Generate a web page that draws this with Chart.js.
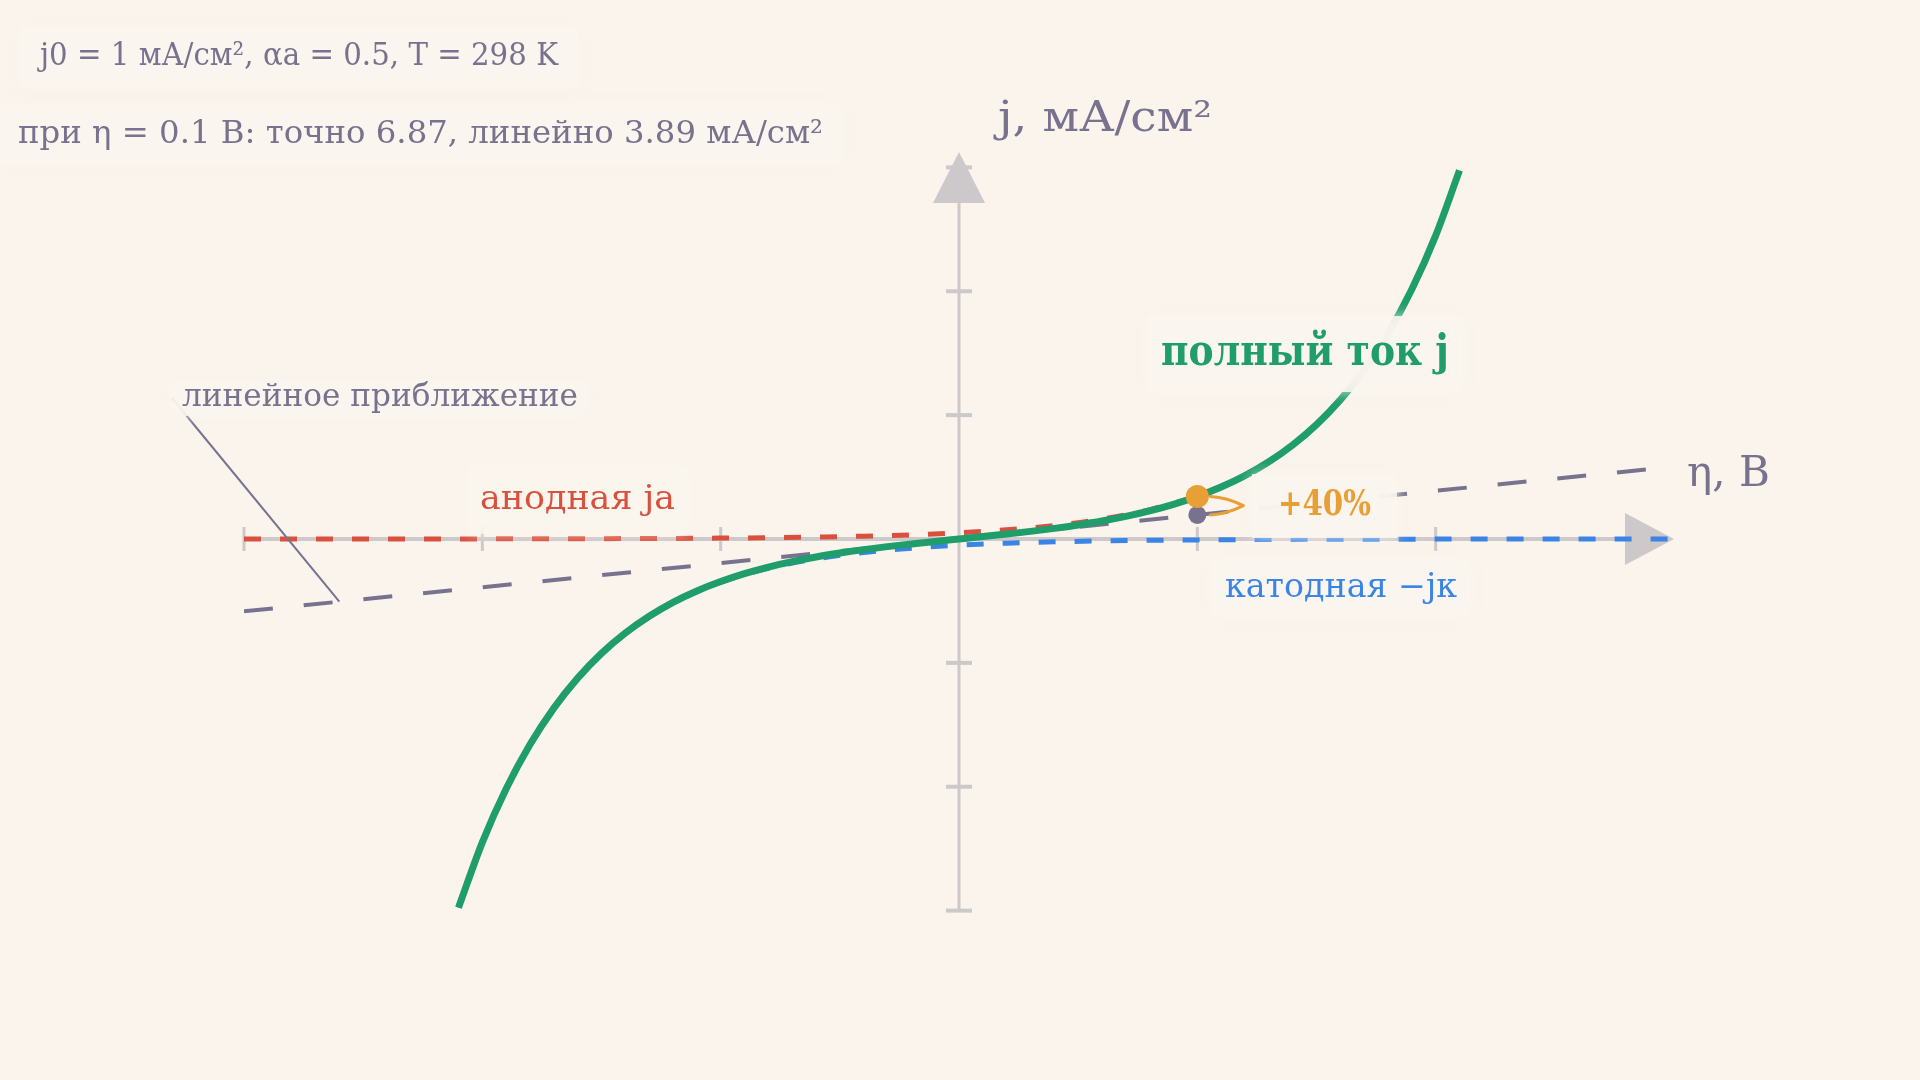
<!DOCTYPE html>
<html>
<head>
<meta charset="utf-8">
<script src="https://cdn.jsdelivr.net/npm/chart.js@4.4.1/dist/chart.umd.min.js"></script>
<style>
  html, body { margin: 0; padding: 0; background: #faf4ec; }
  #wrap { width: 1920px; height: 1080px; }
</style>
</head>
<body>
<div id="wrap"><canvas id="bv" width="1920" height="1080"></canvas></div>
<script>
// overpotential eta, V  /  current density j, mA/cm2
const etaTotal = [-0.21,-0.20,-0.19,-0.18,-0.17,-0.16,-0.15,-0.14,-0.13,-0.12,-0.11,-0.10,-0.09,-0.08,-0.07,-0.06,-0.05,-0.04,-0.03,-0.02,-0.01,
                  0,0.01,0.02,0.03,0.04,0.05,0.06,0.07,0.08,0.09,0.10,0.11,0.12,0.13,0.14,0.15,0.16,0.17,0.18,0.19,0.20,0.21];
const jTotal = [-59.51,-48.99,-40.32,-33.18,-27.30,-22.46,-18.47,-15.18,-12.47,-10.23,-8.39,-6.87,-5.59,-4.53,-3.65,-2.90,-2.27,-1.72,-1.23,-0.80,-0.39,
                0,0.39,0.80,1.23,1.72,2.27,2.90,3.65,4.53,5.59,6.87,8.39,10.23,12.47,15.18,18.47,22.46,27.30,33.18,40.32,48.99,59.51];

const etaAnodic = [-0.30,-0.25,-0.20,-0.15,-0.12,-0.10,-0.08,-0.06,-0.04,-0.02,0,0.02,0.04,0.06,0.08,0.10,0.12,0.14,0.16,0.18,0.20,0.21];
const jAnodic = [0.003,0.008,0.020,0.054,0.097,0.143,0.211,0.311,0.459,0.678,1,1.476,2.178,3.214,4.744,7.001,10.33,15.25,22.50,33.21,49.01,59.53];

const etaCathodic = [-0.21,-0.20,-0.18,-0.16,-0.14,-0.12,-0.10,-0.08,-0.06,-0.04,-0.02,0,0.02,0.04,0.06,0.08,0.10,0.12,0.15,0.20,0.25,0.30];
const jCathodic = [-59.53,-49.01,-33.21,-22.50,-15.25,-10.33,-7.001,-4.744,-3.214,-2.178,-1.476,-1,-0.678,-0.459,-0.311,-0.211,-0.143,-0.097,-0.054,-0.020,-0.008,-0.003];

const etaLinear = [-0.30, 0, 0.30];
const jLinear = [-11.68, 0, 11.68];

const markerEta = [0.1];
const markerExact = [6.87];
const markerLinear = [3.89];

const xTicks = [-0.3, -0.2, -0.1, 0.1, 0.2];
const yTicks = [-60, -40, -20, 20, 40, 60];

const BG = "#faf4ec";
const INK = "#78728f";
const AXIS = "#cdc8c9";
const GREEN = "#1f9d6b";
const RED = "#d9503f";
const BLUE = "#3a84e6";
const ORANGE = "#e89f36";
const SERIF = "'DejaVu Serif', 'Liberation Serif', serif";

function pts(xs, ys) {
  return xs.map((x, i) => ({x: x, y: ys[i]}));
}

// hand-drawn math axes through the origin, with arrows
const axesPlugin = {
  id: "axes",
  beforeDatasetsDraw(chart) {
    const ctx = chart.ctx;
    const xs = chart.scales.x, ys = chart.scales.y;
    const x0 = xs.getPixelForValue(0), y0 = ys.getPixelForValue(0);
    const xEnd = xs.getPixelForValue(0.3);
    const yTop = ys.getPixelForValue(62.5);
    ctx.save();
    ctx.strokeStyle = AXIS;
    ctx.fillStyle = AXIS;
    // x axis
    ctx.lineWidth = 4;
    ctx.beginPath();
    ctx.moveTo(xs.getPixelForValue(-0.3), y0);
    ctx.lineTo(xEnd - 40, y0);
    ctx.stroke();
    ctx.beginPath();
    ctx.moveTo(xEnd, y0);
    ctx.lineTo(xEnd - 49, y0 - 26);
    ctx.lineTo(xEnd - 49, y0 + 26);
    ctx.closePath();
    ctx.fill();
    ctx.lineWidth = 3;
    xTicks.forEach(v => {
      const px = xs.getPixelForValue(v);
      ctx.beginPath();
      ctx.moveTo(px, y0 - 12);
      ctx.lineTo(px, y0 + 12);
      ctx.stroke();
    });
    // y axis
    ctx.lineWidth = 3;
    ctx.beginPath();
    ctx.moveTo(x0, ys.getPixelForValue(-60));
    ctx.lineTo(x0, yTop + 45);
    ctx.stroke();
    ctx.lineWidth = 4;
    yTicks.forEach(v => {
      const py = ys.getPixelForValue(v);
      ctx.beginPath();
      ctx.moveTo(x0 - 13, py);
      ctx.lineTo(x0 + 13, py);
      ctx.stroke();
    });
    ctx.beginPath();
    ctx.moveTo(x0, yTop);
    ctx.lineTo(x0 - 26, yTop + 51);
    ctx.lineTo(x0 + 26, yTop + 51);
    ctx.closePath();
    ctx.fill();
    ctx.restore();
  }
};

// text squeezed/stretched to a given width
function fitText(ctx, text, x, y, font, color, width) {
  ctx.font = font;
  const w = ctx.measureText(text).width;
  ctx.save();
  ctx.fillStyle = color;
  ctx.textBaseline = "middle";
  ctx.textAlign = "left";
  ctx.translate(x, y);
  ctx.scale(width / w, 1);
  ctx.fillText(text, 0, 0);
  ctx.restore();
}

function label(ctx, text, x, y, font, color, width, pad, alpha) {
  ctx.save();
  ctx.shadowColor = "rgba(250,245,238," + alpha + ")";
  ctx.shadowBlur = 12;
  ctx.fillStyle = "rgba(250,245,238," + alpha + ")";
  ctx.fillRect(x - pad[0], y - pad[1], width + 2 * pad[0], 2 * pad[1]);
  ctx.restore();
  fitText(ctx, text, x, y, font, color, width);
}

const notesPlugin = {
  id: "notes",
  afterDatasetsDraw(chart) {
    const ctx = chart.ctx;
    const xs = chart.scales.x, ys = chart.scales.y;
    ctx.save();
    // leader line for linear approximation
    ctx.strokeStyle = INK;
    ctx.lineWidth = 2;
    ctx.beginPath();
    ctx.moveTo(172, 398);
    ctx.lineTo(xs.getPixelForValue(-0.26), ys.getPixelForValue(-10.12));
    ctx.stroke();

    label(ctx, "j0 = 1 мА/см², αa = 0.5, T = 298 K", 40, 57, "32px " + SERIF, INK, 518, [20, 30], 0.88);
    label(ctx, "при η = 0.1 В: точно 6.87, линейно 3.89 мА/см²", 18, 135, "31px " + SERIF, INK, 805, [18, 30], 0.88);
    label(ctx, "линейное приближение", 182, 398, "31px " + SERIF, INK, 396, [12, 18], 0.85);
    label(ctx, "анодная ja", 480, 500, "34px " + SERIF, RED, 195, [12, 34], 0.8);
    label(ctx, "полный ток j", 1161, 354, "bold 42px " + SERIF, GREEN, 288, [14, 38], 0.88);
    label(ctx, "+40%", 1278, 506, "bold 35px " + SERIF, ORANGE, 93, [26, 32], 0.88);
    label(ctx, "катодная −jк", 1225, 588, "33px " + SERIF, BLUE, 232, [14, 28], 0.88);

    fitText(ctx, "j, мА/см²", 998, 120, "42px " + SERIF, INK, 214);
    fitText(ctx, "η, В", 1687, 475, "42px " + SERIF, INK, 83);

    // small bracket arrow from the two markers to "+40%"
    const mx = xs.getPixelForValue(markerEta[0]);
    const yA = ys.getPixelForValue(markerExact[0]);
    const yB = ys.getPixelForValue(markerLinear[0]);
    const tipX = mx + 46, tipY = (yA + yB) / 2;
    ctx.strokeStyle = ORANGE;
    ctx.lineWidth = 3;
    ctx.lineCap = "round";
    ctx.beginPath();
    ctx.moveTo(mx + 13, yA);
    ctx.quadraticCurveTo(mx + 30, yA + 1, tipX, tipY);
    ctx.moveTo(mx + 13, yB);
    ctx.quadraticCurveTo(mx + 30, yB - 1, tipX, tipY);
    ctx.stroke();
    ctx.restore();
  }
};

new Chart("bv", {
  type: "line",
  data: {
    datasets: [{
      data: pts(markerEta, markerExact),
      showLine: false,
      pointRadius: 11.5,
      pointBackgroundColor: ORANGE,
      pointBorderWidth: 0,
      order: 0
    }, {
      data: pts(markerEta, markerLinear),
      showLine: false,
      pointRadius: 9,
      pointBackgroundColor: INK,
      pointBorderWidth: 0,
      order: 1
    }, {
      data: pts(etaTotal, jTotal),
      borderColor: GREEN,
      borderWidth: 7,
      cubicInterpolationMode: "monotone",
      pointRadius: 0,
      order: 2
    }, {
      data: pts(etaLinear, jLinear),
      borderColor: INK,
      borderWidth: 4,
      borderDash: [29, 31],
      pointRadius: 0,
      order: 3
    }, {
      data: pts(etaAnodic, jAnodic),
      borderColor: RED,
      borderWidth: 5,
      borderDash: [17, 19],
      cubicInterpolationMode: "monotone",
      pointRadius: 0,
      order: 4
    }, {
      data: pts(etaCathodic, jCathodic),
      borderColor: BLUE,
      borderWidth: 5,
      borderDash: [17, 19],
      cubicInterpolationMode: "monotone",
      pointRadius: 0,
      order: 5
    }]
  },
  options: {
    responsive: false,
    devicePixelRatio: 1,
    animation: false,
    layout: { padding: { left: 244, right: 246, top: 155, bottom: 157 } },
    plugins: { legend: { display: false }, tooltip: { enabled: false } },
    scales: {
      x: { type: "linear", min: -0.3, max: 0.3, display: false },
      y: { type: "linear", min: -62, max: 62, display: false }
    }
  },
  plugins: [axesPlugin, notesPlugin]
});
</script>
</body>
</html>
